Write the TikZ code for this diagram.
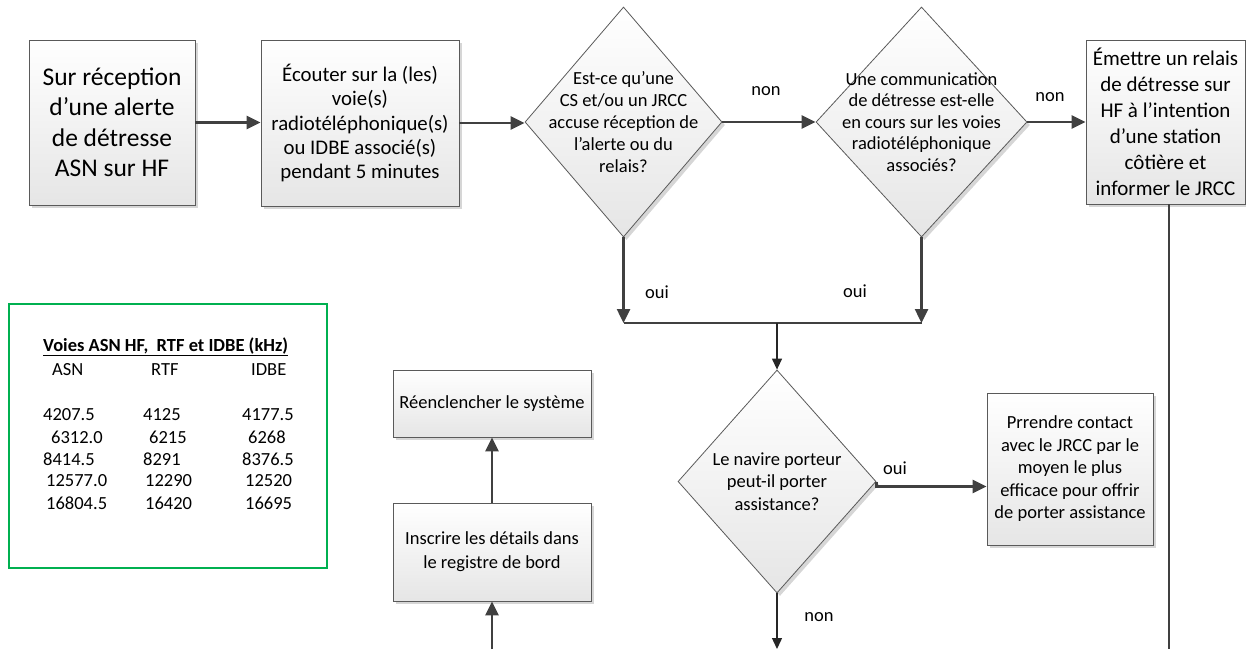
\documentclass[tikz,border=0pt]{standalone}
\usepackage{fontspec}
\setmainfont{Carlito}
\usetikzlibrary{shapes.geometric,arrows.meta,shadows}
\definecolor{lnc}{HTML}{404040}
\definecolor{bord}{HTML}{5A5A5A}
\definecolor{grn}{HTML}{00B050}
\begin{document}
\begin{tikzpicture}[x=1pt,y=-1pt,
  shadowed/.style={drop shadow={shadow xshift=3pt,shadow yshift=-3pt,fill=black!16,opacity=1}},
  box/.style={rectangle, draw=bord, line width=0.8pt, top color=white, bottom color=black!10, shadowed, inner sep=0pt, align=center},
  dia/.style={diamond, draw=bord, line width=0.8pt, top color=white, bottom color=black!10, shadowed, inner sep=0pt},
  conn/.style={draw=lnc, line width=2.5pt, -{Triangle[length=14pt,width=13pt]}},
  plain/.style={draw=lnc, line width=2.5pt},
  thinarrow/.style={draw=black!85, line width=1.3pt, -{Triangle[length=11pt,width=10pt]}},
  lab/.style={font=\fontsize{18.5}{22}\selectfont, inner sep=0pt},
  fs/.style={font=\fontsize{18.5}{22.5}\selectfont},
]
\useasboundingbox (0,0) rectangle (1246,649);

% legend
\node[draw=grn, line width=1.6pt, minimum width=318pt, minimum height=264pt, inner sep=0pt] (leg) at (168,436) {};
\node[lab, anchor=west, font=\fontsize{18.5}{22}\selectfont\bfseries] (lt) at (43,347) {\underline{Voies ASN HF,~~RTF et IDBE (kHz)}};
\node[lab, anchor=west] (h1) at (52,370) {ASN};
\node[lab, anchor=west] (h2) at (151,370) {RTF};
\node[lab, anchor=west] (h3) at (251,370) {IDBE};
\node[lab, anchor=west] (r1a) at (43,415) {4207.5};
\node[lab, anchor=west] (r1b) at (143,415) {4125};
\node[lab, anchor=west] (r1c) at (242,415) {4177.5};
\node[lab, anchor=west] (r2a) at (51,437) {6312.0};
\node[lab, anchor=west] (r2b) at (149,437) {6215};
\node[lab, anchor=west] (r2c) at (248,437) {6268};
\node[lab, anchor=west] (r3a) at (43,459) {8414.5};
\node[lab, anchor=west] (r3b) at (143,459) {8291};
\node[lab, anchor=west] (r3c) at (242,459) {8376.5};
\node[lab, anchor=west] (r4a) at (46,481) {12577.0};
\node[lab, anchor=west] (r4b) at (145,481) {12290};
\node[lab, anchor=west] (r4c) at (245,481) {12520};
\node[lab, anchor=west] (r5a) at (46,503) {16804.5};
\node[lab, anchor=west] (r5b) at (145,503) {16420};
\node[lab, anchor=west] (r5c) at (245,503) {16695};

% boxes
\node[box, minimum width=166pt, minimum height=165pt, font=\fontsize{25.5}{30.5}\selectfont] (b1) at (112,122.5) {Sur réception\\d’une alerte\\de détresse\\ASN sur HF};
\node[box, minimum width=198pt, minimum height=166pt, font=\fontsize{20.8}{24.3}\selectfont] (b2) at (360,123) {Écouter sur la (les)\\voie(s)\\radiotéléphonique(s)\\ou IDBE associé(s)\\pendant 5 minutes};
\node[box, minimum width=159pt, minimum height=164pt, font=\fontsize{21}{26}\selectfont] (b3) at (1165.5,122) {Émettre un relais\\de détresse sur\\HF à l’intention\\d’une station\\côtière et\\informer le JRCC};
\node[box, minimum width=166pt, minimum height=152pt, fs] (b4) at (1070,469) {Prrendre contact\\avec le JRCC par le\\moyen le plus\\efficace pour offrir\\de porter assistance};
\node[box, minimum width=198pt, minimum height=67pt, fs] (b5) at (492,403.5) {Réenclencher le système};
\node[box, minimum width=198pt, minimum height=98pt, font=\fontsize{18.5}{24}\selectfont] (b6) at (492,552) {Inscrire les détails dans\\le registre de bord};

% diamonds
\node[dia, minimum width=197pt, minimum height=230pt] (d1) at (623.5,122) {};
\node[lab, align=center, font=\fontsize{18.5}{22}\selectfont] (d1t) at (d1.center) {Est-ce qu’une\\CS et/ou un JRCC\\accuse réception de\\l’alerte ou du\\relais?};
\node[dia, minimum width=211pt, minimum height=230pt] (d2) at (921.5,122) {};
\node[lab, align=center, font=\fontsize{18.5}{21.5}\selectfont] (d2t) at (d2.center) {Une communication\\de détresse est-elle\\en cours sur les voies\\radiotéléphonique\\associés?};
\node[dia, minimum width=198pt, minimum height=223pt] (d3) at (777,481.5) {};
\node[lab, align=center, font=\fontsize{18.5}{22.5}\selectfont] (d3t) at (d3.center) {Le navire porteur\\peut-il porter\\assistance?};

% labels
\node[lab] (n1) at (766,91) {non};
\node[lab] (n2) at (1050,97) {non};
\node[lab] (o1) at (657,292) {oui};
\node[lab] (o2) at (855,291) {oui};
\node[lab] (o3) at (895,468) {oui};
\node[lab] (n3) at (819,617) {non};

% junctions and free ends
\coordinate (j1) at (623.5,323);
\coordinate (j2) at (921.5,323);
\coordinate (jm) at (777,323);
\coordinate (e1) at (777,649);
\coordinate (e2) at (492,649);
\coordinate (e3) at (1169,649);

% connectors
\draw[conn] (b1.east) -- (b1.east -| b2.west);
\draw[conn] (b2.east) -- (b2.east -| d1.west);
\draw[conn] (d1.east) -- (d2.west);
\draw[conn] (d2.east) -- (d2.east -| b3.west);
\draw[conn] (d1.south) -- (j1);
\draw[conn] (d2.south) -- (j2);
\draw[plain] (j1) -- (j2);
\draw[thinarrow] (jm) -- (d3.north);
\draw[conn] (d3.east) -- ++(0,5) coordinate (t3) -- (t3 -| b4.west);
\draw[thinarrow] (d3.south) -- (e1);
\draw[conn] (e2) -- (b6.south);
\draw[conn] (b6.north) -- (b5.south);
\draw[plain] (e3 |- b3.south) -- (e3);
\end{tikzpicture}
\end{document}
